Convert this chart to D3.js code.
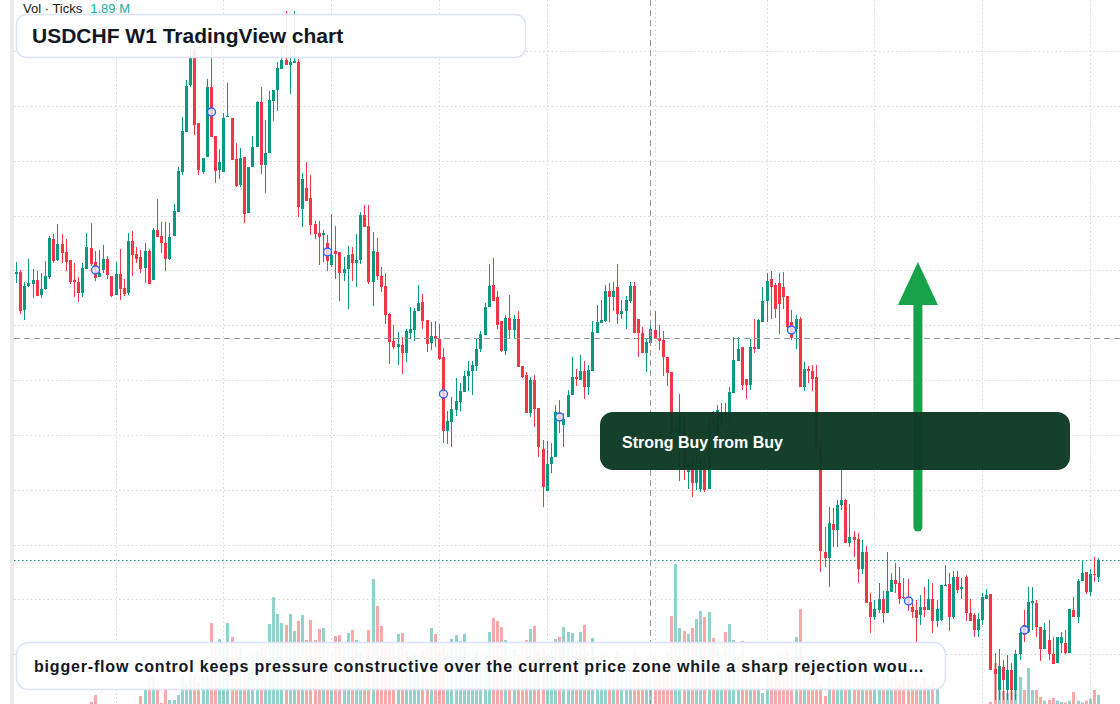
<!DOCTYPE html>
<html>
<head>
<meta charset="utf-8">
<title>USDCHF W1 TradingView chart</title>
<script src="https://cdn.jsdelivr.net/npm/d3@7/dist/d3.min.js"></script>
<style>
  html, body { margin: 0; padding: 0; background: #ffffff; }
  svg { display: block; font-family: "Liberation Sans", Arial, sans-serif; }
</style>
</head>
<body>
<svg id="chart" width="1120" height="704"></svg>
<script>
// USDCHF weekly bars, oldest first (prices)
var open = [
  0.9652,0.9656,0.9580,0.9628,0.9632,0.9640,0.9610,0.9622,0.9646,0.9722,
  0.9680,0.9712,0.9696,0.9680,0.9640,0.9636,0.9614,0.9662,0.9704,0.9676,
  0.9646,0.9660,0.9682,0.9648,0.9610,0.9652,0.9624,0.9614,0.9718,0.9692,
  0.9686,0.9664,0.9698,0.9640,0.9740,0.9728,0.9714,0.9682,0.9728,0.9776,
  0.9856,0.9936,1.0030,1.0100,0.9954,0.9856,0.9886,1.0026,0.9928,0.9860,
  0.9856,0.9966,0.9964,0.9882,0.9830,0.9886,0.9774,0.9866,0.9906,0.9996,
  0.9870,0.9894,0.9998,1.0020,1.0062,1.0080,1.0070,1.0074,1.0076,0.9782,
  0.9824,0.9804,0.9752,0.9734,0.9730,0.9714,0.9670,0.9698,0.9696,0.9654,
  0.9662,0.9692,0.9674,0.9680,0.9770,0.9748,0.9636,0.9696,0.9648,0.9628,
  0.9572,0.9518,0.9506,0.9510,0.9494,0.9534,0.9540,0.9578,0.9596,0.9560,
  0.9514,0.9528,0.9522,0.9486,0.9338,0.9356,0.9380,0.9396,0.9416,0.9448,
  0.9458,0.9468,0.9502,0.9530,0.9586,0.9630,0.9606,0.9558,0.9498,0.9564,
  0.9540,0.9562,0.9468,0.9450,0.9374,0.9440,0.9384,0.9302,0.9218,0.9272,
  0.9286,0.9374,0.9350,0.9366,0.9410,0.9446,0.9440,0.9458,0.9426,0.9458,
  0.9534,0.9554,0.9558,0.9618,0.9606,0.9626,0.9572,0.9578,0.9598,0.9628,
  0.9562,0.9534,0.9494,0.9514,0.9540,0.9524,0.9520,0.9486,0.9456,0.9320,
  0.9320,0.9364,0.9256,0.9276,0.9234,0.9222,0.9266,0.9222,0.9364,0.9334,
  0.9350,0.9376,0.9374,0.9414,0.9478,0.9506,0.9442,0.9430,0.9506,0.9502,
  0.9556,0.9598,0.9642,0.9630,0.9634,0.9626,0.9608,0.9556,0.9542,0.9562,
  0.9426,0.9462,0.9458,0.9446,0.9304,0.9096,0.9084,0.9152,0.9140,0.9190,
  0.9200,0.9114,0.9126,0.9122,0.9062,0.9096,0.8996,0.8966,0.8980,0.9002,
  0.8974,0.9016,0.9040,0.9034,0.9006,0.9004,0.8986,0.8980,0.8970,0.8986,
  0.8980,0.9002,0.8958,0.8960,0.9028,0.9032,0.8966,0.9046,0.9022,0.9046,
  0.8974,0.8970,0.8940,0.8960,0.9002,0.9012,0.8862,0.8820,0.8866,0.8820,
  0.8860,0.8820,0.8892,0.8950,0.8936,0.8994,0.8994,0.8946,0.8902,0.8920,
  0.8892,0.8874,0.8914,0.8914,0.8894,0.8980,0.8966,0.9038,0.9056,0.9016,
  0.9052,0.9046
];
var high = [
  0.9676,0.9660,0.9636,0.9682,0.9662,0.9658,0.9654,0.9678,0.9728,0.9732,
  0.9752,0.9732,0.9722,0.9680,0.9674,0.9646,0.9674,0.9734,0.9754,0.9698,
  0.9700,0.9710,0.9688,0.9648,0.9676,0.9702,0.9642,0.9734,0.9738,0.9706,
  0.9700,0.9714,0.9702,0.9744,0.9802,0.9756,0.9756,0.9754,0.9792,0.9866,
  0.9966,1.0040,1.0108,1.0110,0.9954,0.9884,1.0042,1.0106,0.9928,0.9902,
  0.9974,1.0034,0.9964,0.9914,0.9904,0.9886,0.9866,0.9928,0.9998,1.0026,
  0.9960,1.0018,1.0020,1.0076,1.0114,1.0178,1.0100,1.0178,1.0082,0.9854,
  0.9876,0.9850,0.9758,0.9758,0.9740,0.9730,0.9772,0.9748,0.9696,0.9686,
  0.9708,0.9706,0.9732,0.9776,0.9790,0.9790,0.9736,0.9724,0.9666,0.9654,
  0.9574,0.9550,0.9536,0.9526,0.9542,0.9586,0.9584,0.9630,0.9612,0.9560,
  0.9556,0.9558,0.9552,0.9504,0.9378,0.9406,0.9444,0.9434,0.9458,0.9478,
  0.9478,0.9522,0.9538,0.9594,0.9672,0.9684,0.9618,0.9558,0.9570,0.9610,
  0.9570,0.9578,0.9468,0.9456,0.9446,0.9450,0.9384,0.9320,0.9318,0.9314,
  0.9390,0.9400,0.9374,0.9420,0.9486,0.9462,0.9490,0.9478,0.9470,0.9558,
  0.9590,0.9600,0.9630,0.9634,0.9636,0.9672,0.9600,0.9608,0.9636,0.9636,
  0.9562,0.9546,0.9522,0.9554,0.9578,0.9550,0.9538,0.9486,0.9456,0.9360,
  0.9412,0.9370,0.9280,0.9286,0.9306,0.9286,0.9286,0.9366,0.9378,0.9390,
  0.9394,0.9394,0.9426,0.9526,0.9526,0.9506,0.9442,0.9522,0.9562,0.9562,
  0.9626,0.9654,0.9658,0.9634,0.9654,0.9656,0.9608,0.9580,0.9570,0.9566,
  0.9476,0.9468,0.9470,0.9470,0.9320,0.9146,0.9186,0.9184,0.9200,0.9260,
  0.9202,0.9192,0.9138,0.9134,0.9120,0.9108,0.9014,0.9000,0.9034,0.9018,
  0.9096,0.9054,0.9074,0.9066,0.9044,0.9042,0.9002,0.9000,0.9010,0.9026,
  0.9042,0.9034,0.9000,0.9030,0.9070,0.9054,0.9058,0.9058,0.9044,0.9050,
  0.9002,0.8974,0.8974,0.9014,0.9022,0.9012,0.8894,0.8902,0.8880,0.8890,
  0.8874,0.8900,0.8940,0.8980,0.9026,0.9026,0.9000,0.8946,0.8954,0.8960,
  0.8926,0.8926,0.8936,0.8940,0.8982,0.9006,0.9042,0.9080,0.9056,0.9062,
  0.9086,0.9084
];
var low = [
  0.9634,0.9572,0.9560,0.9626,0.9604,0.9608,0.9604,0.9620,0.9642,0.9674,
  0.9678,0.9674,0.9658,0.9632,0.9606,0.9596,0.9606,0.9662,0.9668,0.9638,
  0.9646,0.9654,0.9642,0.9606,0.9610,0.9600,0.9608,0.9610,0.9648,0.9674,
  0.9654,0.9634,0.9632,0.9640,0.9726,0.9694,0.9658,0.9680,0.9728,0.9776,
  0.9850,0.9936,1.0026,0.9930,0.9850,0.9852,0.9886,0.9926,0.9834,0.9842,
  0.9856,0.9966,0.9880,0.9826,0.9826,0.9754,0.9774,0.9866,0.9906,0.9852,
  0.9814,0.9894,0.9958,0.9978,1.0062,1.0070,1.0012,1.0074,0.9766,0.9746,
  0.9798,0.9730,0.9722,0.9670,0.9676,0.9658,0.9666,0.9642,0.9598,0.9638,
  0.9582,0.9638,0.9626,0.9672,0.9746,0.9632,0.9588,0.9640,0.9616,0.9552,
  0.9472,0.9502,0.9470,0.9452,0.9476,0.9522,0.9518,0.9578,0.9542,0.9496,
  0.9500,0.9506,0.9480,0.9314,0.9312,0.9306,0.9368,0.9378,0.9416,0.9418,
  0.9410,0.9458,0.9496,0.9530,0.9586,0.9598,0.9542,0.9496,0.9490,0.9522,
  0.9522,0.9466,0.9444,0.9374,0.9366,0.9346,0.9286,0.9186,0.9218,0.9254,
  0.9286,0.9334,0.9306,0.9366,0.9410,0.9428,0.9440,0.9402,0.9410,0.9458,
  0.9534,0.9554,0.9556,0.9556,0.9578,0.9552,0.9562,0.9542,0.9594,0.9534,
  0.9486,0.9494,0.9456,0.9514,0.9522,0.9500,0.9448,0.9428,0.9304,0.9310,
  0.9238,0.9240,0.9222,0.9206,0.9220,0.9216,0.9216,0.9222,0.9334,0.9330,
  0.9348,0.9354,0.9350,0.9414,0.9478,0.9420,0.9402,0.9420,0.9494,0.9502,
  0.9556,0.9556,0.9562,0.9564,0.9532,0.9582,0.9542,0.9520,0.9502,0.9426,
  0.9418,0.9434,0.9418,0.9290,0.9056,0.9066,0.9026,0.9106,0.9106,0.9180,
  0.9114,0.9106,0.9086,0.9034,0.9052,0.8994,0.8934,0.8960,0.8974,0.8954,
  0.8974,0.9016,0.9014,0.8992,0.9002,0.8978,0.8964,0.8916,0.8950,0.8966,
  0.8980,0.8934,0.8946,0.8958,0.9028,0.8938,0.8962,0.9014,0.9002,0.8958,
  0.8958,0.8926,0.8926,0.8950,0.9002,0.8860,0.8800,0.8800,0.8800,0.8800,
  0.8800,0.8800,0.8880,0.8916,0.8934,0.8940,0.8926,0.8878,0.8902,0.8880,
  0.8872,0.8874,0.8894,0.8892,0.8894,0.8966,0.8954,0.9038,0.9012,0.9008,
  0.9036,0.9036
];
var close = [
  0.9656,0.9578,0.9628,0.9634,0.9640,0.9608,0.9622,0.9648,0.9724,0.9678,
  0.9712,0.9694,0.9676,0.9636,0.9636,0.9614,0.9664,0.9706,0.9672,0.9644,
  0.9654,0.9682,0.9650,0.9608,0.9652,0.9622,0.9612,0.9718,0.9690,0.9682,
  0.9662,0.9698,0.9632,0.9740,0.9726,0.9714,0.9682,0.9726,0.9778,0.9858,
  0.9938,1.0028,1.0084,0.9950,0.9860,0.9884,1.0026,0.9926,0.9858,0.9876,
  0.9964,0.9968,0.9880,0.9828,0.9884,0.9772,0.9866,0.9906,0.9996,0.9870,
  0.9894,1.0000,1.0020,1.0064,1.0080,1.0070,1.0076,1.0078,0.9786,0.9842,
  0.9798,0.9750,0.9732,0.9726,0.9734,0.9678,0.9690,0.9692,0.9654,0.9662,
  0.9690,0.9674,0.9680,0.9770,0.9746,0.9636,0.9698,0.9648,0.9626,0.9570,
  0.9516,0.9506,0.9512,0.9494,0.9538,0.9542,0.9578,0.9594,0.9558,0.9512,
  0.9528,0.9522,0.9482,0.9338,0.9358,0.9382,0.9398,0.9418,0.9448,0.9458,
  0.9470,0.9502,0.9532,0.9586,0.9628,0.9598,0.9550,0.9498,0.9564,0.9540,
  0.9562,0.9466,0.9446,0.9374,0.9440,0.9382,0.9306,0.9226,0.9272,0.9286,
  0.9376,0.9358,0.9362,0.9410,0.9446,0.9442,0.9458,0.9426,0.9460,0.9536,
  0.9556,0.9560,0.9618,0.9606,0.9618,0.9572,0.9578,0.9600,0.9628,0.9534,
  0.9534,0.9494,0.9516,0.9542,0.9522,0.9518,0.9486,0.9454,0.9320,0.9340,
  0.9370,0.9260,0.9274,0.9234,0.9266,0.9276,0.9220,0.9354,0.9350,0.9380,
  0.9376,0.9370,0.9416,0.9480,0.9502,0.9430,0.9430,0.9506,0.9502,0.9560,
  0.9598,0.9638,0.9626,0.9582,0.9592,0.9606,0.9546,0.9524,0.9562,0.9426,
  0.9462,0.9458,0.9442,0.9304,0.9098,0.9084,0.9154,0.9140,0.9190,0.9200,
  0.9114,0.9126,0.9120,0.9062,0.9096,0.8994,0.8966,0.8982,0.9002,0.8974,
  0.9018,0.9040,0.9032,0.9002,0.9004,0.8992,0.8976,0.8964,0.8986,0.8980,
  0.9002,0.8958,0.8982,0.9030,0.9030,0.8966,0.9046,0.9020,0.9026,0.8974,
  0.8958,0.8940,0.8962,0.9006,0.9010,0.8860,0.8852,0.8868,0.8840,0.8860,
  0.8820,0.8892,0.8934,0.8930,0.8996,0.8998,0.8946,0.8902,0.8940,0.8892,
  0.8872,0.8926,0.8926,0.8894,0.8982,0.8966,0.9038,0.9054,0.9016,0.9052,
  0.9050,0.9080
];
// tick volume, millions
var volume = [
  0,0,0,0,0,0,0,0,0,0,
  0,0,0,0,0,0,0,0,0.53,0.89,
  0,0,0,0,0,0,0,0,0,0,
  0.84,1.21,1.95,1.89,1.32,0.47,1.32,0.63,0.63,0.89,
  1.89,1.47,2.26,1.89,1.58,1.95,1.89,4.68,3.53,3.84,
  3.53,4.68,3.95,3.37,3.37,2.74,2.74,3.00,3.26,3.42,
  3.42,4.63,6.05,5.16,4.68,4.58,5.16,4.26,4.79,5.11,
  3.79,4.84,3.79,4.37,4.42,3.53,3.21,4.00,4.05,3.53,
  4.16,4.32,3.79,3.11,2.74,4.32,7.00,5.58,4.53,3.47,
  3.47,3.47,4.11,4.16,3.26,2.74,3.00,2.47,3.26,3.37,
  4.42,4.11,3.26,3.53,3.26,3.84,4.05,3.74,4.11,3.00,
  2.74,3.26,2.74,3.00,4.21,4.95,4.79,4.47,3.79,2.74,
  3.26,3.00,3.53,3.79,4.37,4.53,3.26,3.37,3.00,3.26,
  3.84,3.95,4.47,4.21,4.16,3.26,4.21,4.58,3.16,3.89,
  2.74,2.32,3.00,2.21,2.63,3.26,2.11,2.47,2.74,3.37,
  3.00,2.63,2.21,1.89,2.84,2.32,2.74,3.16,5.05,7.79,
  4.42,4.26,4.11,4.42,4.89,5.32,5.00,5.26,3.89,3.26,
  3.00,4.21,4.63,3.79,3.00,3.74,2.74,2.47,2.21,1.95,
  1.00,2.21,2.74,2.47,3.00,2.63,3.26,2.84,3.95,5.42,
  2.47,2.21,2.32,2.74,1.53,0.84,1.95,1.68,2.21,2.11,
  2.50,2.95,2.95,2.95,2.95,2.60,2.20,1.90,2.30,2.00,
  2.50,1.80,2.10,1.60,1.90,2.20,1.70,1.90,1.50,1.80,
  1.40,1.60,1.30,0.40,0.30,0.40,0.30,0.40,0.30,0.40,
  0.30,0.40,0.30,0.40,0.30,0.53,2.58,1.42,1.10,1.00,
  1.10,2.47,1.84,1.16,2.32,1.16,1.16,0.80,0.60,0.63,
  0.74,0.60,0.53,0.50,0.60,1.05,0.60,0.50,0.60,0.70,
  1.16,0.90
];

var markerBars = [19, 47, 75, 103, 131, 159, 187, 215, 243];   // signal dots
var gridBars = [24, 50, 76, 102, 128, 154, 181, 207, 233, 259]; // half-year lines
var crosshair = { bar: 153, price: 0.9524 };
var arrow = { bar: 217.5, from: 0.9146, to: 0.9676 };
var volLabel = "1.89 M";
var titleText = "USDCHF W1 TradingView chart";
var signalText = "Strong Buy from Buy";
var noteText = "bigger-flow control keeps pressure constructive over the current price zone while a sharp rejection wou\u2026";

var upColor = "#089981", downColor = "#f23645";
var W = 1120, H = 704;

var svg = d3.select("#chart");

var x = d3.scaleLinear().domain([0, close.length - 1]).range([16, 1098.3]);
var y = d3.scaleLinear().domain([1.02, 0.8792]).range([0, H]);
var yVol = d3.scaleLinear().domain([0, 8]).range([712, 560]);

var bars = d3.range(close.length);
function isUp(i) { return close[i] >= open[i]; }
function px(i) { return Math.round(x(i)); }

svg.append("rect").attr("width", W).attr("height", H).attr("fill", "#ffffff");

// grid
var grid = svg.append("g")
  .attr("stroke", "#d4d6da")
  .attr("stroke-width", 1)
  .attr("stroke-dasharray", "1.5,2.7");

var gridLevels = d3.range(12).map(function (k) { return 1.0098 - k * 0.01097; });
grid.selectAll(".h").data(gridLevels).join("line")
  .attr("class", "h")
  .attr("x1", 14).attr("x2", W)
  .attr("y1", function (d) { return Math.round(y(d)) + 0.5; })
  .attr("y2", function (d) { return Math.round(y(d)) + 0.5; });

grid.selectAll(".v").data(gridBars).join("line")
  .attr("class", "v")
  .attr("x1", function (d) { return px(d) + 0.5; })
  .attr("x2", function (d) { return px(d) + 0.5; })
  .attr("y1", 0).attr("y2", H);

// volume
svg.append("g").selectAll("rect").data(bars).join("rect")
  .attr("x", function (i) { return px(i) - 1; })
  .attr("width", 3)
  .attr("y", function (i) { return yVol(volume[i]); })
  .attr("height", function (i) { return yVol(0) - yVol(volume[i]); })
  .attr("fill", function (i) { return isUp(i) ? "#26a69a" : "#ef5350"; })
  .attr("opacity", 0.5);

// last price line
svg.append("line")
  .attr("x1", 14).attr("x2", W)
  .attr("y1", Math.round(y(close[close.length - 1])) + 0.5)
  .attr("y2", Math.round(y(close[close.length - 1])) + 0.5)
  .attr("stroke", upColor)
  .attr("stroke-width", 1)
  .attr("stroke-dasharray", "1.5,2.5");

// candles
var candles = svg.append("g");
candles.selectAll("line").data(bars).join("line")
  .attr("x1", function (i) { return px(i) + 0.5; })
  .attr("x2", function (i) { return px(i) + 0.5; })
  .attr("y1", function (i) { return y(high[i]); })
  .attr("y2", function (i) { return y(low[i]); })
  .attr("stroke", function (i) { return isUp(i) ? upColor : downColor; })
  .attr("stroke-width", 1);

candles.selectAll("rect").data(bars).join("rect")
  .attr("x", function (i) { return px(i) - 1; })
  .attr("width", 3)
  .attr("y", function (i) { return y(Math.max(open[i], close[i])); })
  .attr("height", function (i) {
    return Math.max(1, Math.abs(y(open[i]) - y(close[i])));
  })
  .attr("fill", function (i) { return isUp(i) ? upColor : downColor; });

// crosshair
var cross = svg.append("g")
  .attr("stroke", "#9598a1")
  .attr("stroke-width", 1)
  .attr("stroke-dasharray", "6,4");
cross.append("line")
  .attr("x1", 14).attr("x2", W)
  .attr("y1", Math.round(y(crosshair.price)) + 0.5)
  .attr("y2", Math.round(y(crosshair.price)) + 0.5);
cross.append("line")
  .attr("x1", px(crosshair.bar) + 0.5).attr("x2", px(crosshair.bar) + 0.5)
  .attr("y1", 0).attr("y2", H);

// signal markers
svg.append("g").selectAll("circle").data(markerBars).join("circle")
  .attr("cx", function (i) { return px(i) + 0.5; })
  .attr("cy", function (i) { return y((open[i] + close[i]) / 2); })
  .attr("r", 4)
  .attr("fill", "#eef3ff")
  .attr("fill-opacity", 0.8)
  .attr("stroke", "#2962ff")
  .attr("stroke-width", 1.4);

// up arrow
var ax = x(arrow.bar);
svg.append("line")
  .attr("x1", ax).attr("x2", ax)
  .attr("y1", y(arrow.from)).attr("y2", y(arrow.to) + 40)
  .attr("stroke", "#16a34a")
  .attr("stroke-width", 9)
  .attr("stroke-linecap", "round");
svg.append("path")
  .attr("d", "M" + (ax - 20) + "," + (y(arrow.to) + 43) +
    "L" + (ax + 20) + "," + (y(arrow.to) + 43) +
    "L" + ax + "," + y(arrow.to) + "Z")
  .attr("fill", "#16a34a");

// signal box
svg.append("rect")
  .attr("x", 600).attr("y", 412)
  .attr("width", 470).attr("height", 58)
  .attr("rx", 13)
  .attr("fill", "#0d3a25")
  .attr("fill-opacity", 0.97);
svg.append("text")
  .attr("x", 622).attr("y", 448)
  .attr("fill", "#ffffff")
  .attr("font-size", 16)
  .attr("font-weight", "bold")
  .text(signalText);

// title box
svg.append("rect")
  .attr("x", 16.5).attr("y", 14.5)
  .attr("width", 509).attr("height", 43)
  .attr("rx", 10)
  .attr("fill", "#ffffff")
  .attr("fill-opacity", 0.9)
  .attr("stroke", "#d9e4f7")
  .attr("stroke-width", 1.5);
svg.append("text")
  .attr("x", 32).attr("y", 43)
  .attr("fill", "#131722")
  .attr("font-size", 21)
  .attr("font-weight", "bold")
  .text(titleText);

// volume legend
var legend = svg.append("text")
  .attr("x", 23).attr("y", 13)
  .attr("font-size", 13)
  .attr("fill", "#131722");
legend.append("tspan").text("Vol \u00b7 Ticks");
legend.append("tspan").attr("dx", 8).attr("fill", "#22ab94").text(volLabel);

// note box
svg.append("rect")
  .attr("x", 16.5).attr("y", 642.5)
  .attr("width", 929).attr("height", 47)
  .attr("rx", 12)
  .attr("fill", "#ffffff")
  .attr("fill-opacity", 0.9)
  .attr("stroke", "#d9e4f7")
  .attr("stroke-width", 1.5);
svg.append("text")
  .attr("x", 34).attr("y", 672)
  .attr("fill", "#131722")
  .attr("font-size", 16)
  .attr("font-weight", "bold")
  .attr("letter-spacing", 0.82)
  .text(noteText);

// left edge strip
svg.append("rect")
  .attr("x", 10).attr("y", 0)
  .attr("width", 4).attr("height", H)
  .attr("fill", "#ebebeb");
</script>
</body>
</html>
